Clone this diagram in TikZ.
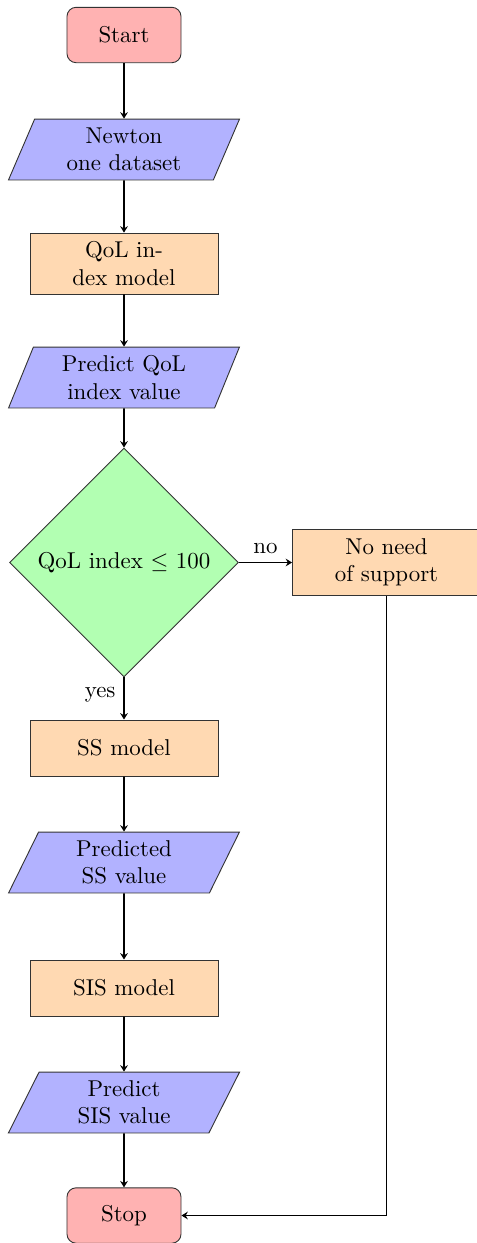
\documentclass[tikz,border=0pt]{standalone}
\usetikzlibrary{shapes.geometric,arrows.meta}
\begin{document}
\begin{tikzpicture}[x=0.4367pt,y=-0.4367pt,
  term/.style={draw=black!80,fill=red!30,rounded corners=4pt,minimum width=49.8pt,minimum height=24.2pt,inner sep=2pt},
  io/.style={draw=black!80,fill=blue!30,trapezium,trapezium left angle=70,trapezium right angle=110,trapezium stretches=true,minimum width=101.3pt,minimum height=26.6pt,inner sep=1pt,align=center},
  proc/.style={draw=black!80,fill=orange!30,minimum width=82.1pt,minimum height=24.5pt,inner sep=2pt,align=center},
  decis/.style={draw=black!80,fill=green!30,diamond,minimum width=100pt,minimum height=100pt,inner sep=0pt,align=center},
  flow/.style={-{Stealth[length=2.8pt,width=3.4pt,inset=1pt]},thick}]
\useasboundingbox (0,0) rectangle (476,1243);
\node[term] (start) at (124,35) {Start};
\node[io] (newton) at (124,149.5) {Newton\\one dataset};
\node[proc,minimum height=26.6pt] (qolm) at (124,263.5) {QoL in-\\dex model};
\node[io] (predq) at (124,377.5) {Predict QoL\\index value};
\node[decis] (dec) at (124,562.5) {QoL index $\leq$ 100};
\node[proc,minimum height=28.8pt] (noneed) at (386.5,562.5) {No need\\of support};
\node[proc] (ssm) at (124,748) {SS model};
\node[io] (pss) at (124,862.5) {Predicted\\SS value};
\node[proc] (sism) at (124,988) {SIS model};
\node[io] (psis) at (124,1102.5) {Predict\\SIS value};
\node[term] (stop) at (124,1215.5) {Stop};
\draw[flow] (start) -- (newton);
\draw[flow] (newton) -- (qolm);
\draw[flow] (qolm) -- (predq);
\draw[flow] (predq) -- (dec);
\draw[flow] (dec.east) -- node[above] {no} (noneed.west);
\draw[flow] (dec.south) -- node[left,pos=0.42] {yes} (ssm.north);
\draw[flow] (ssm) -- (pss);
\draw[flow] (pss) -- (sism);
\draw[flow] (sism) -- (psis);
\draw[flow] (psis) -- (stop);
\draw[flow] (noneed.south) -- (noneed.south |- stop.east) -- (stop.east);
\end{tikzpicture}
\end{document}
